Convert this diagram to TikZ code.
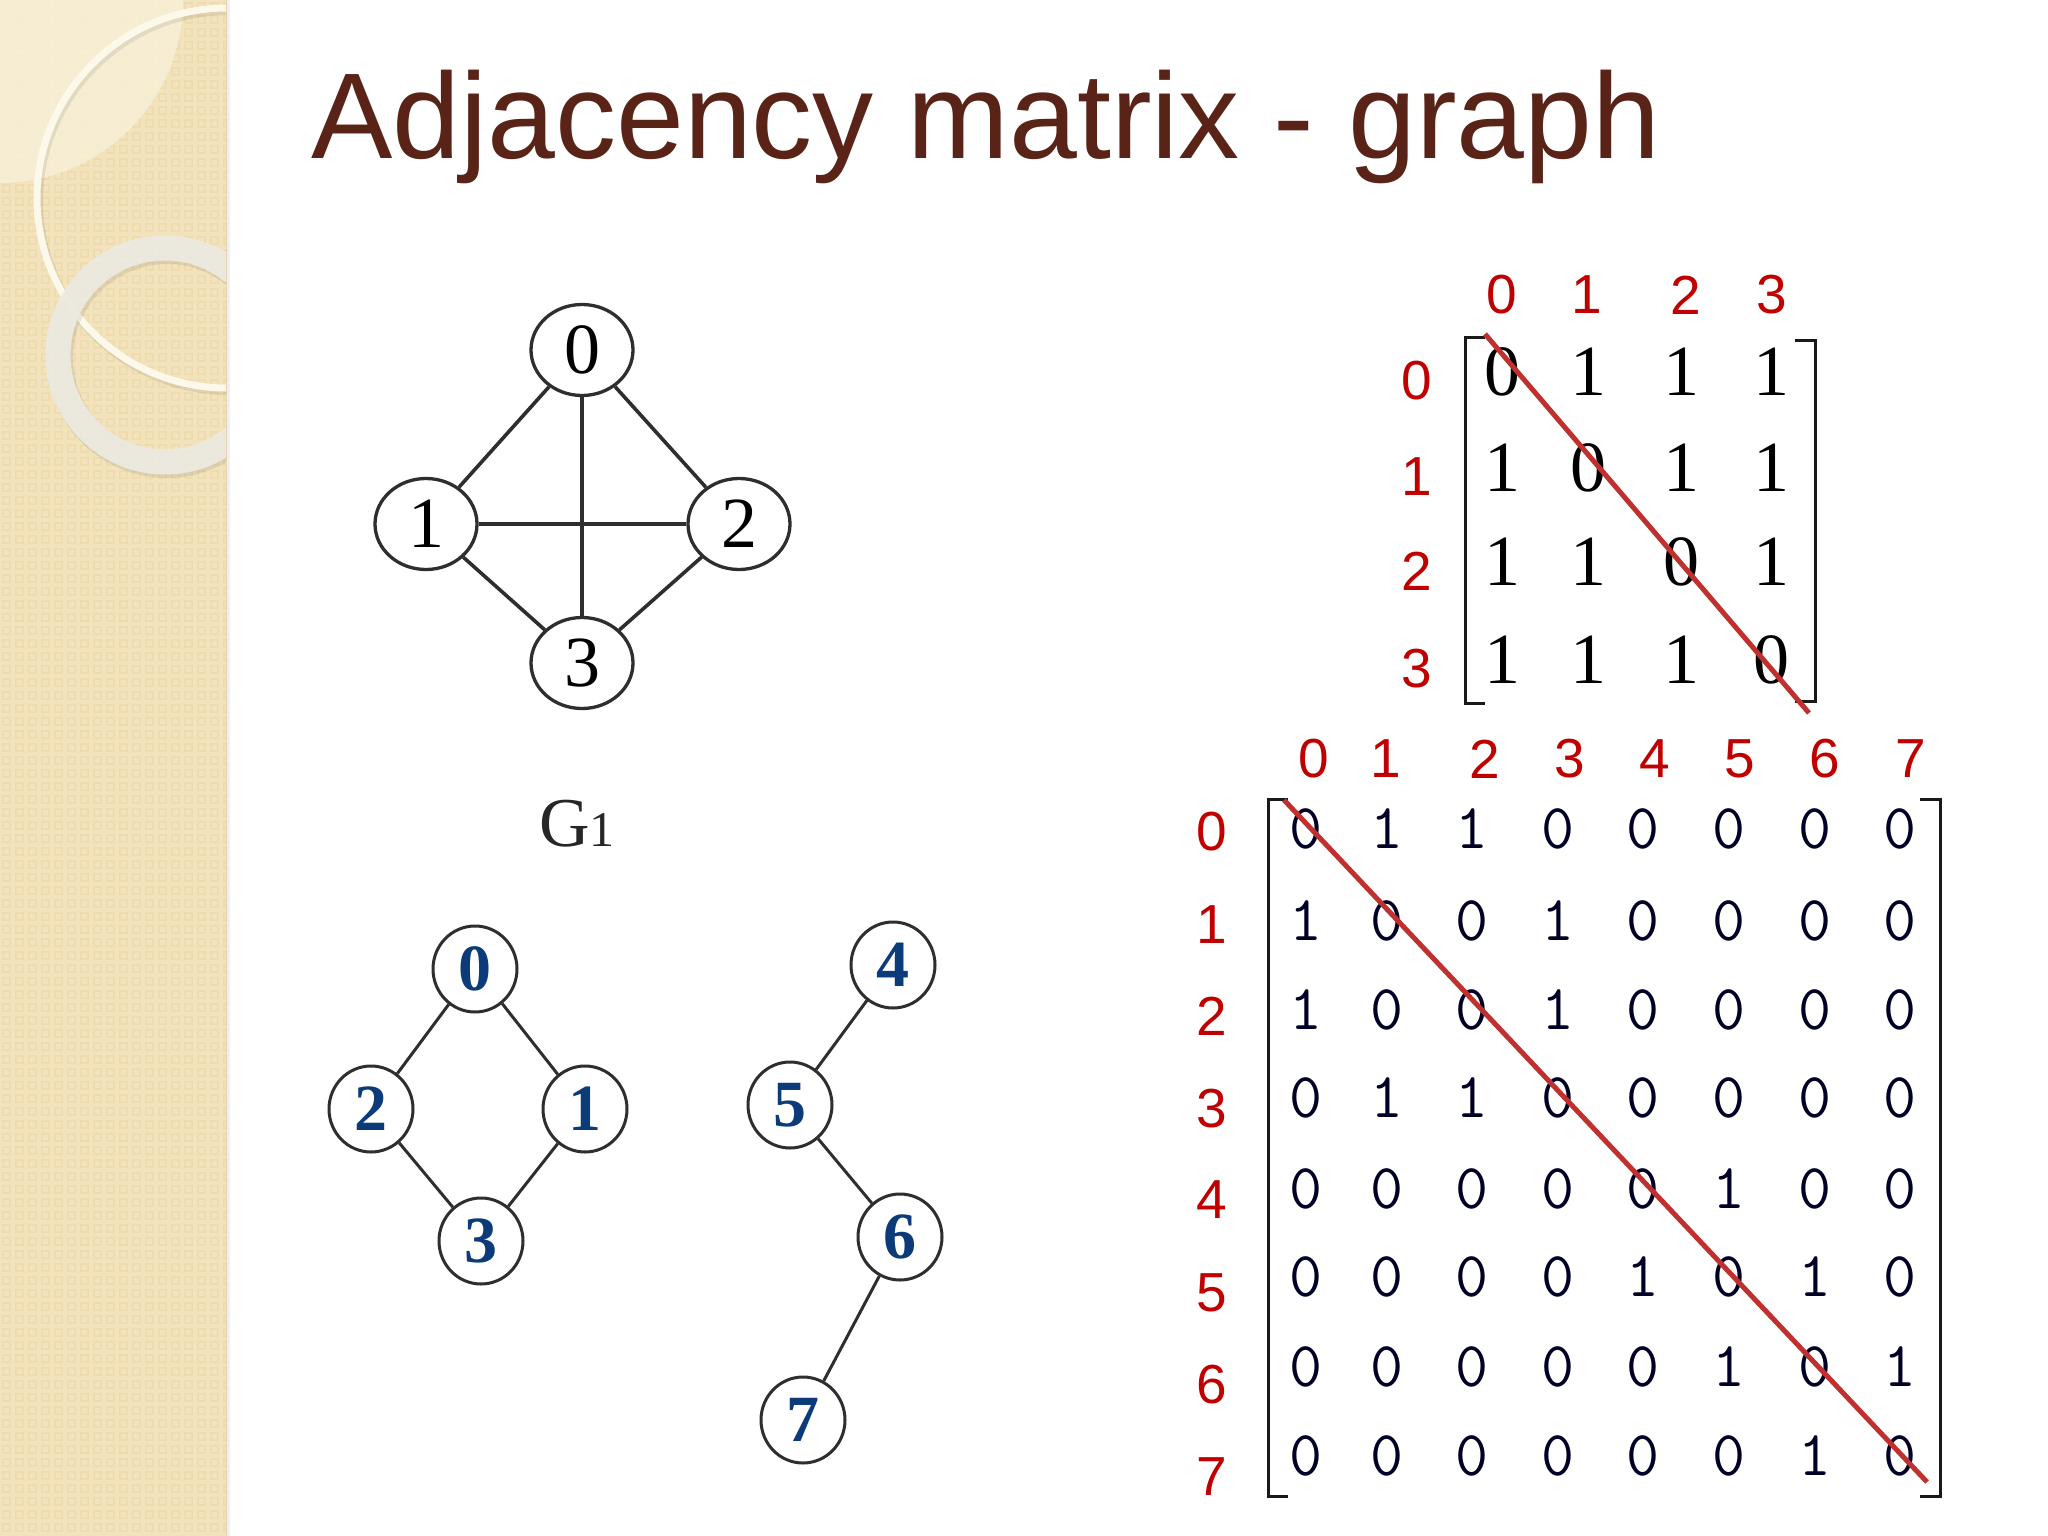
\documentclass[tikz,border=0pt]{standalone}
\usepackage{fontspec}
\setmainfont{Liberation Serif}
\newfontfamily\arialf{Liberation Sans}
\usetikzlibrary{shapes.geometric}
\definecolor{band}{HTML}{F3E3BD}
\definecolor{bandpat}{HTML}{EEDBB0}
\definecolor{bandlight}{HTML}{F8EFD8}
\definecolor{titlec}{HTML}{5A2317}
\definecolor{hdr}{HTML}{C00000}
\definecolor{diag}{HTML}{C0302F}
\definecolor{bluedig}{HTML}{0B3B78}
\definecolor{ringc}{HTML}{EDEAE2}
\definecolor{arcc}{HTML}{FCF8EA}
\definecolor{edgec}{HTML}{2E2E2E}
\begin{document}
\begin{tikzpicture}[x=1pt,y=-1pt,
  gone/.style={draw=edgec,line width=3.3pt,ellipse,minimum width=102pt,minimum height=91pt,inner sep=0pt,
    font=\fontsize{72}{72}\selectfont},
  gtwo/.style={draw=edgec,line width=3pt,ellipse,minimum width=84pt,minimum height=86pt,inner sep=0pt,
    font=\fontsize{66}{66}\selectfont\bfseries,text=bluedig},
  gedge/.style={draw=edgec,line width=3.6pt},
  gedgeb/.style={draw=edgec,line width=3pt},
  hdrnum/.style={inner sep=0pt,text=hdr,font=\arialf\fontsize{55}{55}\selectfont},
  mAe/.style={inner sep=0pt,font=\fontsize{72}{72}\selectfont},
  mBe/.style={inner sep=0pt,text=black!85!blue,font=\ttfamily\fontsize{64}{64}\selectfont},
  brk/.style={draw=black!90,line width=3pt},
  diagline/.style={draw=diag,line width=5pt},
  titlestyle/.style={inner sep=0pt,anchor=base west,font=\arialf\fontsize{122}{122}\selectfont}
]
\useasboundingbox (0,0) rectangle (2048,1536);
\fill[white] (0,0) rectangle (2048,1536);
% left band
\fill[band] (0,0) rectangle (227,1536);
\begin{scope}
\clip (0,0) rectangle (226,1536);
\foreach \i in {0,...,17} {
  \foreach \j in {0,...,118} {
    \draw[bandpat,line width=1.2pt] (\i*13+3,\j*13+3) rectangle ++(7,7);
  }
}
\fill[bandlight,opacity=0.85] (0,0) -- (183,0) arc[start angle=0,end angle=90,radius=183] -- cycle;
\draw[black,opacity=0.08,line width=8pt] (229,201) circle[radius=190];
\draw[arcc,line width=7pt] (227,198) circle[radius=190];
\draw[black,opacity=0.08,line width=26pt] (167,358) circle[radius=107];
\draw[ringc,opacity=0.92,line width=25pt] (165,355) circle[radius=107];
\end{scope}
\fill[black,opacity=0.06] (226,0) rectangle (230,1536);

% title
\node[titlestyle,text=titlec] (title) at (311,159) {Adjacency matrix - graph};

% graph G1
\node[gone] (a0) at (582,350) {0};
\node[gone] (a1) at (426,524) {1};
\node[gone] (a2) at (739,524) {2};
\node[gone] (a3) at (582,663) {3};
\draw[gedge] (a0) -- (a1);
\draw[gedge] (a0) -- (a2);
\draw[gedge] (a0) -- (a3);
\draw[gedge] (a1) -- (a2);
\draw[gedge] (a1) -- (a3);
\draw[gedge] (a2) -- (a3);
\node[inner sep=0pt,anchor=base,font=\fontsize{70}{70}\selectfont,text=black!85] (g1label) at (577,846) {G\fontsize{50}{50}\selectfont 1};

% graph 2
\node[gtwo] (b0) at (475,969) {0};
\node[gtwo] (b2) at (371,1109) {2};
\node[gtwo] (b1) at (585,1109) {1};
\node[gtwo] (b3) at (481,1241) {3};
\node[gtwo] (b4) at (893,965) {4};
\node[gtwo] (b5) at (790,1105) {5};
\node[gtwo] (b6) at (900,1237) {6};
\node[gtwo] (b7) at (803,1420) {7};
\draw[gedgeb] (b0) -- (b2);
\draw[gedgeb] (b0) -- (b1);
\draw[gedgeb] (b2) -- (b3);
\draw[gedgeb] (b1) -- (b3);
\draw[gedgeb] (b4) -- (b5);
\draw[gedgeb] (b5) -- (b6);
\draw[gedgeb] (b6) -- (b7);

% matrix A (4x4)
\def\mAx{{1502,1588,1681,1771}}
\def\mAy{{372,468,562,660}}
\def\hAx{{1502,1587,1686,1772}}
\foreach \r in {0,...,3} {
  \node[hdrnum] (hAc\r) at ({\hAx[\r]},295) {\r};
  \node[hdrnum] (hAr\r) at (1417,{\mAy[\r]+9}) {\r};
}
\foreach \row [count=\r from 0] in {{0,1,1,1},{1,0,1,1},{1,1,0,1},{1,1,1,0}} {
  \foreach \v [count=\c from 0] in \row {
    \node[mAe] (mA-\r-\c) at ({\mAx[\c]},{\mAy[\r]}) {\v};
  }
}
\draw[brk] (1485,337) -- (1465,337) -- (1465,703) -- (1485,703);
\draw[brk] (1795,340) -- (1815,340) -- (1815,701) -- (1795,701);
\coordinate (dA1) at (1485,334);
\coordinate (dA2) at (1809,713);
\draw[diagline] (dA1) -- (dA2);

% matrix B (8x8)
\def\mBx{{1306,1387,1472,1558,1643,1729,1815,1900}}
\def\mBy{{829,921,1010,1098,1189,1277,1367,1456}}
\def\hBx{{1314,1386,1485,1570,1655,1740,1825,1911}}
\def\hBy{{832,925,1016,1109,1200,1293,1385,1477}}
\foreach \r in {0,...,7} {
  \node[hdrnum] (hBc\r) at ({\hBx[\r]},759) {\r};
  \node[hdrnum] (hBr\r) at (1212,{\hBy[\r]}) {\r};
}
\foreach \row [count=\r from 0] in {{0,1,1,0,0,0,0,0},{1,0,0,1,0,0,0,0},{1,0,0,1,0,0,0,0},{0,1,1,0,0,0,0,0},{0,0,0,0,0,1,0,0},{0,0,0,0,1,0,1,0},{0,0,0,0,0,1,0,1},{0,0,0,0,0,0,1,0}} {
  \foreach \v [count=\c from 0] in \row {
    \node[mBe] (mB-\r-\c) at ({\mBx[\c]},{\mBy[\r]}) {\v};
  }
}
\draw[brk] (1288,799) -- (1268,799) -- (1268,1496) -- (1288,1496);
\draw[brk] (1920,799) -- (1940,799) -- (1940,1496) -- (1920,1496);
\coordinate (dB1) at (1284,800);
\coordinate (dB2) at (1927,1482);
\draw[diagline] (dB1) -- (dB2);
\end{tikzpicture}
\end{document}
